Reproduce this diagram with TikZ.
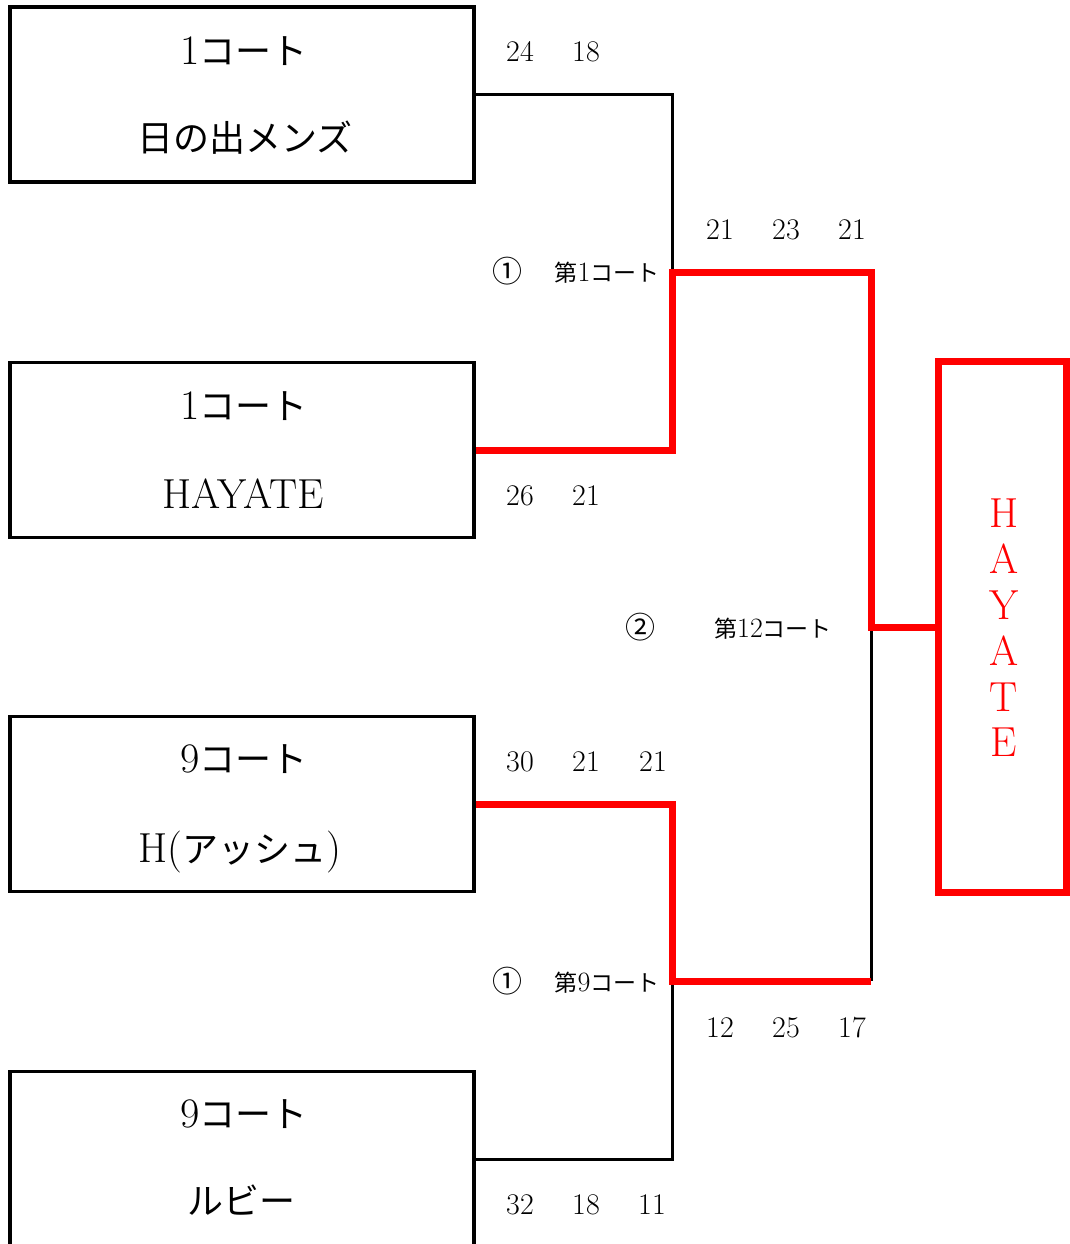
\documentclass[tikz,border=0pt]{standalone}
\usepackage{fontspec}
\newfontfamily\jpfont{Noto Sans CJK JP}
\newcommand{\jbig}[1]{{\jpfont\fontsize{36}{38}\selectfont #1}}
\newcommand{\jsm}[1]{{\jpfont\fontsize{23}{25}\selectfont #1}}
\begin{document}
\begin{tikzpicture}[x=1pt,y=-1pt,
  team/.style={draw, line width=3.5pt, minimum width=464pt, minimum height=175pt, inner sep=0pt},
  big/.style={anchor=base, inner sep=0pt, font=\fontsize{42}{44}\selectfont},
  score/.style={anchor=base, inner sep=0pt, font=\fontsize{30}{32}\selectfont},
  lbl/.style={anchor=base, inner sep=0pt, font=\fontsize{28}{30}\selectfont},
  circ/.style={anchor=base, inner sep=0pt, font=\jpfont\fontsize{30}{32}\selectfont},
  win/.style={anchor=base, inner sep=0pt, text=red, font=\fontsize{42}{44}\selectfont},
  winbox/.style={draw=red, line width=7pt, minimum width=128pt, minimum height=531pt, inner sep=0pt},
  blk/.style={line width=3pt, black},
  redl/.style={line width=7pt, red}]
\useasboundingbox (0,0) rectangle (1069,1244);

% team boxes
\node[team] (t1) at (242,94.5) {};
\node[team] (t2) at (242,450) {};
\node[team] (t3) at (242,804) {};
\node[team] (t4) at (242,1159) {};

\node[big] (t1a) at (244,65) {1\jbig{コート}};
\node[big] (t1b) at (245,151) {\jbig{日の出メンズ}};
\node[big] (t2a) at (244,419) {1\jbig{コート}};
\node[big] (t2b) at (243,508) {HAYATE};
\node[big] (t3a) at (244,772) {9\jbig{コート}};
\node[big] (t3b) at (240,862) {H(\jbig{アッシュ})};
\node[big] (t4a) at (244,1127) {9\jbig{コート}};
\node[big] (t4b) at (241,1214) {\jbig{ルビー}};

% winner box
\node[winbox] (w) at (1002,626.5) {};
\node[win] (w1) at (1004,527) {H};
\node[win] (w2) at (1004,573) {A};
\node[win] (w3) at (1004,619) {Y};
\node[win] (w4) at (1004,665) {A};
\node[win] (w5) at (1004,711) {T};
\node[win] (w6) at (1004,756) {E};

% junctions
\coordinate (m1) at (672,272);
\coordinate (m2) at (672,981);
\coordinate (f) at (871,627);

% black connectors
\draw[blk] (t1.east) -| (m1);
\draw[blk] (t4.east) -| (m2);
\draw[blk] (f) -- (f |- m2);

% red (winning) connectors
\draw[redl] (t2.east) -| (m1) -| (f) -- (w.west |- f);
\draw[redl] (t3.east) -| (m2) -- (m2 -| f);

% scores
\node[score] (s1a) at (520,62) {24};
\node[score] (s1b) at (586,62) {18};
\node[score] (s2a) at (520,505) {26};
\node[score] (s2b) at (586,505) {21};
\node[score] (s3a) at (520,771) {30};
\node[score] (s3b) at (586,771) {21};
\node[score] (s3c) at (653,771) {21};
\node[score] (s4a) at (520,1214) {32};
\node[score] (s4b) at (586,1214) {18};
\node[score] (s4c) at (652,1214) {11};
\node[score] (s5a) at (720,239) {21};
\node[score] (s5b) at (786,239) {23};
\node[score] (s5c) at (852,239) {21};
\node[score] (s6a) at (720,1037) {12};
\node[score] (s6b) at (786,1037) {25};
\node[score] (s6c) at (852,1037) {17};

% match labels
\node[circ] (c1) at (507,282) {①};
\node[lbl] (l1) at (607,281) {\jsm{第}1\jsm{コート}};
\node[circ] (c2) at (640,638) {②};
\node[lbl] (l2) at (773,637) {\jsm{第}12\jsm{コート}};
\node[circ] (c3) at (507,992) {①};
\node[lbl] (l3) at (607,991) {\jsm{第}9\jsm{コート}};
\end{tikzpicture}
\end{document}
